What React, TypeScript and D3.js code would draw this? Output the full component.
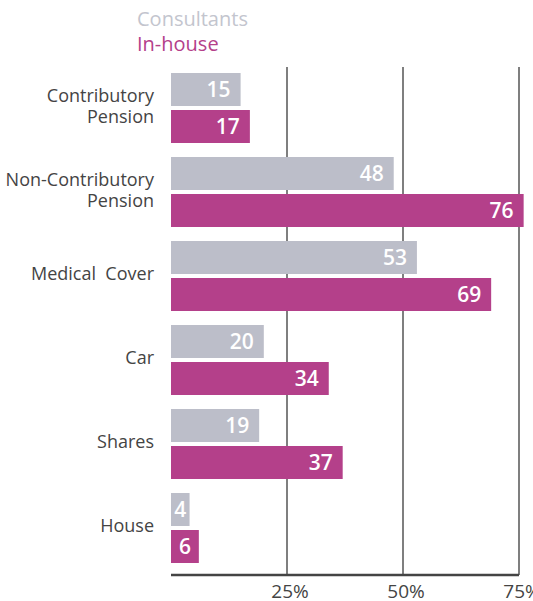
import React from "react";
import * as d3 from "d3";

const categories = [
  ["Contributory", "Pension"],
  ["Non-Contributory", "Pension"],
  ["Medical  Cover"],
  ["Car"],
  ["Shares"],
  ["House"],
];
const categoryKeys = ["Contributory Pension", "Non-Contributory Pension", "Medical Cover", "Car", "Shares", "House"];
const consultants = [15, 48, 53, 20, 19, 4];
const inHouse = [17, 76, 69, 34, 37, 6];
const ticks = [25, 50, 75];
const seriesNames = ["Consultants", "In-house"];

const GREY = "#bcbec9";
const PINK = "#b4408a";
const TEXT = "#444444";
const FONT = "'Open Sans', sans-serif";

export default function App() {
  const width = 533;
  const height = 601;
  const x = d3.scaleLinear().domain([0, 75]).range([171, 519]);
  const y = d3
    .scaleBand<string>()
    .domain(categoryKeys)
    .range([66, 570])
    .paddingInner(1 / 6)
    .paddingOuter(1 / 12);
  const barH = 33;
  const gap = 4;
  const axisY = 575;

  const valueLabel = (v: number, yTop: number) => {
    const w = x(v) - x(0);
    const small = w < 40;
    return (
      <text
        x={small ? x(0) + w / 2 : x(v) - 10}
        y={yTop + barH / 2 + 7}
        textAnchor={small ? "middle" : "end"}
        fontSize={21}
        fontWeight={600}
        fill="#fff"
      >
        {v}
      </text>
    );
  };

  return (
    <svg width={width} height={height} style={{ position: "absolute", left: 0, top: 0 }} fontFamily={FONT}>
      <rect width={width} height={height} fill="#fff" />
      {/* legend */}
      <text x={137} y={26} fontSize={20} fill="#c3c5ce">{seriesNames[0]}</text>
      <text x={137} y={51} fontSize={20} fill={PINK}>{seriesNames[1]}</text>

      {/* gridlines */}
      {ticks.map((t) => (
        <line key={t} x1={x(t)} x2={x(t)} y1={67} y2={axisY} stroke="#555" strokeWidth={1.5} />
      ))}

      {categoryKeys.map((k, i) => {
        const y0 = y(k)!;
        const center = y0 + y.bandwidth() / 2;
        const lines = categories[i];
        return (
          <g key={k}>
            <rect x={x(0)} y={y0} width={x(consultants[i]) - x(0)} height={barH} fill={GREY} />
            <rect x={x(0)} y={y0 + barH + gap} width={x(inHouse[i]) - x(0)} height={barH} fill={PINK} />
            {valueLabel(consultants[i], y0)}
            {valueLabel(inHouse[i], y0 + barH + gap)}
            {lines.length === 1 ? (
              <text x={154} y={center + 4} textAnchor="end" fontSize={18} fill={TEXT} style={{ whiteSpace: "pre" }}>
                {lines[0]}
              </text>
            ) : (
              <text textAnchor="end" fontSize={18} fill={TEXT}>
                <tspan x={154} y={center - 6}>{lines[0]}</tspan>
                <tspan x={154} y={center + 15}>{lines[1]}</tspan>
              </text>
            )}
          </g>
        );
      })}

      {/* axis */}
      <line x1={x(0)} x2={x(75)} y1={axisY} y2={axisY} stroke="#444" strokeWidth={2.5} />
      {ticks.map((t) => (
        <text key={t} x={x(t) + 3} y={598} textAnchor="middle" fontSize={19} fill={TEXT}>
          {t}%
        </text>
      ))}
    </svg>
  );
}
